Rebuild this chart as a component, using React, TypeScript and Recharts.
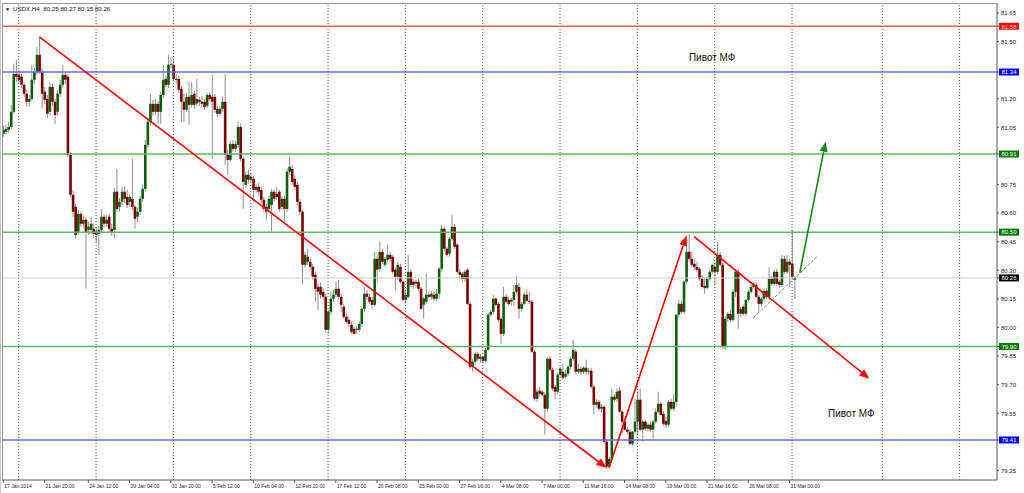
import React from 'react';
import { ComposedChart, Bar, XAxis, YAxis, ReferenceLine, ReferenceDot } from 'recharts';

// [open, high, low, close] per H4 bar, USDX 17 Jan 2014 .. 31 Mar 2014 08:00
const BARS: [number, number, number, number][] = [
  [81.016, 81.058, 81.000, 81.037], [81.026, 81.063, 81.011, 81.042], [81.037, 81.079, 81.021, 81.052], [81.052, 81.168, 81.042, 81.131],
  [81.131, 81.383, 81.121, 81.330], [81.330, 81.404, 81.288, 81.315], [81.325, 81.351, 81.278, 81.299], [81.315, 81.330, 81.257, 81.273],
  [81.273, 81.288, 81.210, 81.226], [81.226, 81.247, 81.157, 81.184], [81.184, 81.220, 81.157, 81.199], [81.199, 81.378, 81.190, 81.299],
  [81.299, 81.362, 81.278, 81.341], [81.341, 81.472, 81.325, 81.430], [81.430, 81.524, 81.330, 81.341], [81.341, 81.362, 81.147, 81.226],
  [81.236, 81.262, 81.173, 81.194], [81.199, 81.220, 81.100, 81.121], [81.131, 81.288, 81.115, 81.262], [81.262, 81.278, 81.163, 81.184],
  [81.184, 81.199, 81.068, 81.115], [81.131, 81.246, 81.110, 81.226], [81.226, 81.299, 81.210, 81.273], [81.273, 81.378, 81.257, 81.325],
  [81.325, 81.341, 81.278, 81.299], [81.315, 81.330, 80.895, 80.906], [80.906, 80.921, 80.685, 80.696], [80.696, 80.722, 80.581, 80.607],
  [80.633, 80.649, 80.465, 80.486], [80.502, 80.617, 80.486, 80.596], [80.596, 80.607, 80.528, 80.544], [80.544, 80.586, 80.523, 80.565],
  [80.565, 80.581, 80.203, 80.502], [80.512, 80.554, 80.486, 80.528], [80.512, 80.581, 80.491, 80.544], [80.518, 80.544, 80.470, 80.491],
  [80.502, 80.528, 80.449, 80.486], [80.491, 80.533, 80.381, 80.512], [80.512, 80.622, 80.497, 80.581], [80.581, 80.596, 80.523, 80.544],
  [80.544, 80.591, 80.528, 80.565], [80.581, 80.596, 80.502, 80.518], [80.518, 80.544, 80.481, 80.502], [80.512, 80.733, 80.465, 80.712],
  [80.712, 80.832, 80.607, 80.622], [80.633, 80.680, 80.607, 80.659], [80.659, 80.738, 80.643, 80.712], [80.712, 80.743, 80.654, 80.675],
  [80.685, 80.722, 80.628, 80.643], [80.659, 80.701, 80.633, 80.685], [80.675, 80.885, 80.617, 80.633], [80.633, 80.643, 80.518, 80.570],
  [80.581, 80.628, 80.554, 80.607], [80.607, 80.691, 80.591, 80.675], [80.675, 80.748, 80.659, 80.727], [80.727, 80.983, 80.712, 80.958],
  [80.958, 81.100, 80.942, 81.079], [81.079, 81.226, 81.058, 81.173], [81.173, 81.194, 81.110, 81.131], [81.131, 81.199, 81.115, 81.173],
  [81.173, 81.189, 81.068, 81.131], [81.131, 81.236, 81.068, 81.220], [81.220, 81.378, 81.205, 81.299], [81.304, 81.320, 81.257, 81.273],
  [81.273, 81.430, 81.257, 81.378], [81.378, 81.420, 81.357, 81.383], [81.378, 81.404, 81.288, 81.304], [81.304, 81.330, 81.278, 81.299],
  [81.304, 81.320, 81.231, 81.247], [81.252, 81.268, 81.079, 81.184], [81.184, 81.226, 81.079, 81.142], [81.142, 81.231, 81.130, 81.210],
  [81.210, 81.288, 81.063, 81.168], [81.168, 81.288, 81.152, 81.220], [81.226, 81.241, 81.147, 81.168], [81.175, 81.304, 81.163, 81.199],
  [81.194, 81.210, 81.163, 81.184], [81.184, 81.215, 81.157, 81.173], [81.184, 81.199, 81.142, 81.157], [81.163, 81.231, 81.152, 81.220],
  [81.220, 81.236, 81.184, 81.199], [81.210, 81.325, 80.885, 81.184], [81.210, 81.226, 81.126, 81.142], [81.147, 81.163, 81.105, 81.121],
  [81.121, 81.163, 81.110, 81.147], [81.147, 81.210, 81.131, 81.184], [81.184, 81.330, 80.853, 80.906], [80.906, 80.932, 80.801, 80.879],
  [80.879, 80.979, 80.869, 80.963], [80.963, 80.984, 80.921, 80.937], [80.937, 80.979, 80.921, 80.963], [80.958, 81.079, 80.942, 81.052],
  [81.052, 81.068, 80.869, 80.885], [80.885, 80.900, 80.622, 80.764], [80.748, 80.817, 80.733, 80.801], [80.801, 80.827, 80.754, 80.775],
  [80.775, 80.811, 80.759, 80.790], [80.780, 80.796, 80.659, 80.722], [80.722, 80.754, 80.707, 80.738], [80.738, 80.759, 80.691, 80.712],
  [80.722, 80.738, 80.654, 80.670], [80.670, 80.685, 80.607, 80.622], [80.633, 80.649, 80.565, 80.607], [80.622, 80.691, 80.601, 80.675],
  [80.643, 80.727, 80.502, 80.712], [80.712, 80.727, 80.659, 80.675], [80.701, 80.738, 80.670, 80.685], [80.712, 80.722, 80.607, 80.622],
  [80.633, 80.691, 80.617, 80.675], [80.675, 80.691, 80.554, 80.622], [80.622, 80.837, 80.607, 80.817], [80.817, 80.900, 80.801, 80.843],
  [80.832, 80.853, 80.748, 80.764], [80.780, 80.796, 80.722, 80.738], [80.748, 80.764, 80.643, 80.659], [80.659, 80.675, 80.591, 80.607],
  [80.607, 80.617, 80.229, 80.329], [80.329, 80.397, 80.313, 80.381], [80.371, 80.413, 80.329, 80.345], [80.345, 80.360, 80.303, 80.318],
  [80.318, 80.334, 80.250, 80.266], [80.276, 80.292, 80.135, 80.203], [80.213, 80.234, 80.093, 80.187], [80.213, 80.234, 80.151, 80.172],
  [80.187, 80.208, 80.145, 80.161], [80.161, 80.177, 79.977, 79.988], [79.988, 80.093, 79.967, 80.082], [80.082, 80.187, 80.067, 80.151],
  [80.151, 80.198, 80.135, 80.172], [80.172, 80.240, 80.161, 80.203], [80.203, 80.250, 80.151, 80.161], [80.161, 80.177, 80.082, 80.119],
  [80.109, 80.124, 80.046, 80.056], [80.056, 80.072, 80.019, 80.030], [80.040, 80.056, 80.004, 80.019], [80.014, 80.030, 79.967, 79.977],
  [79.993, 80.004, 79.962, 79.967], [79.988, 80.009, 79.967, 79.993], [79.988, 80.030, 79.977, 80.019], [80.019, 80.109, 80.004, 80.098],
  [80.098, 80.213, 80.082, 80.177], [80.177, 80.198, 80.145, 80.161], [80.161, 80.177, 80.124, 80.135], [80.145, 80.161, 80.098, 80.119],
  [80.119, 80.397, 80.109, 80.360], [80.360, 80.381, 80.240, 80.303], [80.308, 80.449, 80.292, 80.397], [80.397, 80.413, 80.334, 80.345],
  [80.329, 80.371, 80.318, 80.360], [80.355, 80.434, 80.345, 80.381], [80.381, 80.397, 80.345, 80.360], [80.371, 80.381, 80.282, 80.292],
  [80.303, 80.313, 80.198, 80.266], [80.266, 80.345, 80.250, 80.329], [80.318, 80.334, 80.229, 80.240], [80.240, 80.250, 80.135, 80.145],
  [80.145, 80.187, 80.124, 80.172], [80.161, 80.381, 80.151, 80.292], [80.292, 80.308, 80.213, 80.224], [80.240, 80.255, 80.203, 80.224],
  [80.229, 80.250, 80.208, 80.240], [80.240, 80.255, 80.192, 80.203], [80.203, 80.213, 80.093, 80.098], [80.119, 80.161, 80.046, 80.151],
  [80.135, 80.282, 80.124, 80.172], [80.172, 80.187, 80.151, 80.161], [80.161, 80.192, 80.145, 80.177], [80.172, 80.187, 80.140, 80.151],
  [80.151, 80.203, 80.140, 80.177], [80.177, 80.318, 80.151, 80.308], [80.308, 80.539, 80.292, 80.518], [80.518, 80.528, 80.402, 80.413],
  [80.413, 80.423, 80.371, 80.381], [80.387, 80.475, 80.371, 80.465], [80.465, 80.591, 80.455, 80.528], [80.528, 80.544, 80.413, 80.423],
  [80.434, 80.444, 80.282, 80.292], [80.292, 80.308, 80.255, 80.276], [80.282, 80.292, 80.240, 80.255], [80.255, 80.303, 80.240, 80.292],
  [80.303, 80.313, 80.119, 80.124], [80.124, 80.135, 79.783, 79.794], [79.794, 79.836, 79.768, 79.820], [79.820, 79.873, 79.804, 79.862],
  [79.862, 79.873, 79.825, 79.836], [79.836, 79.862, 79.815, 79.846], [79.846, 79.851, 79.815, 79.825], [79.825, 79.893, 79.815, 79.883],
  [79.883, 80.077, 79.878, 80.067], [80.067, 80.093, 80.056, 80.082], [80.082, 80.172, 80.067, 80.151], [80.151, 80.161, 80.109, 80.119],
  [80.124, 80.135, 80.030, 80.040], [80.046, 80.056, 79.915, 79.967], [79.967, 80.213, 79.956, 80.161], [80.161, 80.177, 80.130, 80.135],
  [80.145, 80.161, 80.114, 80.124], [80.135, 80.156, 80.114, 80.145], [80.145, 80.224, 80.114, 80.187], [80.187, 80.271, 80.177, 80.224],
  [80.213, 80.234, 80.046, 80.098], [80.098, 80.135, 80.082, 80.124], [80.124, 80.187, 80.114, 80.172], [80.172, 80.198, 80.135, 80.140],
  [80.140, 80.187, 80.124, 80.135], [80.135, 80.145, 79.867, 79.873], [79.873, 79.883, 79.616, 79.626], [79.626, 79.678, 79.610, 79.663],
  [79.668, 79.689, 79.642, 79.652], [79.663, 79.673, 79.637, 79.647], [79.647, 79.658, 79.437, 79.574], [79.574, 79.846, 79.558, 79.836],
  [79.836, 79.851, 79.768, 79.778], [79.778, 79.789, 79.668, 79.679], [79.689, 79.700, 79.621, 79.663], [79.663, 79.763, 79.652, 79.752],
  [79.752, 79.794, 79.742, 79.783], [79.768, 79.810, 79.726, 79.736], [79.742, 79.778, 79.731, 79.757], [79.757, 79.804, 79.745, 79.794],
  [79.794, 79.846, 79.783, 79.836], [79.836, 79.936, 79.825, 79.883], [79.873, 79.888, 79.757, 79.768], [79.768, 79.810, 79.757, 79.783],
  [79.783, 79.794, 79.752, 79.768], [79.768, 79.799, 79.757, 79.789], [79.789, 79.831, 79.752, 79.768], [79.768, 79.789, 79.752, 79.773],
  [79.773, 79.789, 79.679, 79.689], [79.689, 79.700, 79.542, 79.595], [79.595, 79.626, 79.579, 79.610], [79.610, 79.621, 79.563, 79.574],
  [79.574, 79.600, 79.553, 79.584], [79.584, 79.595, 79.390, 79.401], [79.401, 79.411, 79.259, 79.270], [79.270, 79.322, 79.264, 79.311],
  [79.311, 79.679, 79.301, 79.637], [79.637, 79.652, 79.610, 79.621], [79.626, 79.679, 79.610, 79.663], [79.668, 79.689, 79.553, 79.558],
  [79.558, 79.568, 79.437, 79.506], [79.506, 79.521, 79.458, 79.464], [79.464, 79.479, 79.443, 79.453], [79.453, 79.469, 79.380, 79.390],
  [79.390, 79.458, 79.380, 79.453], [79.453, 79.626, 79.443, 79.506], [79.506, 79.663, 79.437, 79.621], [79.621, 79.679, 79.458, 79.464],
  [79.464, 79.516, 79.401, 79.506], [79.506, 79.516, 79.458, 79.469], [79.469, 79.500, 79.453, 79.490], [79.490, 79.506, 79.453, 79.464],
  [79.464, 79.516, 79.416, 79.506], [79.506, 79.574, 79.495, 79.558], [79.558, 79.663, 79.547, 79.600], [79.600, 79.610, 79.537, 79.542],
  [79.547, 79.563, 79.484, 79.495], [79.510, 79.532, 79.474, 79.490], [79.490, 79.621, 79.479, 79.610], [79.610, 79.626, 79.563, 79.574],
  [79.574, 79.652, 79.563, 79.610], [79.610, 80.072, 79.584, 80.067], [80.067, 80.145, 80.051, 80.124], [80.124, 80.140, 80.072, 80.082],
  [80.082, 80.250, 80.072, 80.240], [80.240, 80.486, 80.229, 80.397], [80.397, 80.491, 80.345, 80.360], [80.360, 80.397, 80.318, 80.329],
  [80.334, 80.355, 80.303, 80.318], [80.318, 80.345, 80.292, 80.303], [80.308, 80.318, 80.245, 80.255], [80.255, 80.276, 80.203, 80.213],
  [80.218, 80.255, 80.177, 80.208], [80.208, 80.266, 80.198, 80.255], [80.255, 80.303, 80.245, 80.292], [80.292, 80.334, 80.282, 80.329],
  [80.318, 80.339, 80.224, 80.292], [80.292, 80.449, 80.282, 80.381], [80.381, 80.397, 80.318, 80.329], [80.329, 80.339, 79.888, 79.899],
  [79.899, 80.056, 79.883, 80.046], [80.046, 80.082, 80.030, 80.072], [80.072, 80.093, 80.030, 80.040], [80.040, 80.198, 80.030, 80.187],
  [80.187, 80.303, 80.161, 80.292], [80.292, 80.308, 79.993, 80.072], [80.072, 80.109, 80.056, 80.098], [80.109, 80.119, 80.061, 80.072],
  [80.072, 80.151, 80.061, 80.145], [80.145, 80.198, 80.135, 80.187], [80.187, 80.224, 80.177, 80.213], [80.213, 80.240, 80.203, 80.229],
  [80.224, 80.240, 80.156, 80.161], [80.161, 80.172, 80.082, 80.124], [80.124, 80.161, 80.109, 80.151], [80.151, 80.203, 80.135, 80.192],
  [80.192, 80.208, 80.151, 80.161], [80.161, 80.318, 80.145, 80.255], [80.255, 80.271, 80.219, 80.229], [80.229, 80.303, 80.219, 80.292],
  [80.292, 80.308, 80.219, 80.229], [80.240, 80.250, 80.208, 80.224], [80.224, 80.381, 80.213, 80.360], [80.360, 80.376, 80.282, 80.292],
  [80.292, 80.381, 80.282, 80.345], [80.345, 80.360, 80.213, 80.329], [80.334, 80.512, 80.250, 80.266], [80.25, 80.27, 80.15, 80.26],
];

const SLOTS = 386; // bar slots across the chart window (empty ones on the right)
const TICK_IDX = [0, 16, 33, 49, 65, 81, 97, 113, 129, 145, 161, 177, 193, 209, 225, 241, 257, 273, 289, 305];
const TICK_LABELS = ['17 Jan 2014', '21 Jan 20:00', '24 Jan 12:00', '29 Jan 04:00', '31 Jan 20:00', '5 Feb 12:00',
  '10 Feb 04:00', '12 Feb 20:00', '17 Feb 12:00', '20 Feb 08:00', '25 Feb 00:00', '27 Feb 16:00', '4 Mar 08:00',
  '7 Mar 00:00', '11 Mar 16:00', '14 Mar 08:00', '19 Mar 00:00', '21 Mar 16:00', '26 Mar 08:00', '31 Mar 00:00'];
const WEEK_IDX = [6, 36, 66, 96, 126, 156, 186, 216, 246, 276, 306, 341, 371];
const PRICE_TICKS = [81.65, 81.5, 81.2, 81.05, 80.75, 80.6, 80.45, 80.3, 80.15, 80.0, 79.85, 79.7, 79.55, 79.25];
const LEVELS = [
  { v: 81.58, line: '#ff5a5a', box: '#ff0000', txt: '#ffe0e0' },
  { v: 81.34, line: '#6a6aff', box: '#0000ff', txt: '#ffffff' },
  { v: 80.91, line: '#62b862', box: '#007a00', txt: '#ffffff' },
  { v: 80.5, line: '#62b862', box: '#007a00', txt: '#ffffff' },
  { v: 80.26, line: '#cfcfcf', box: '#000000', txt: '#ffffff' },
  { v: 79.9, line: '#62b862', box: '#007a00', txt: '#ffffff' },
  { v: 79.41, line: '#6a6aff', box: '#0000ff', txt: '#ffffff' },
];
const TRENDS = [
  { a: [14, 81.524], b: [234, 79.264], color: '#ff0000', arrow: true, dashed: false },
  { a: [235, 79.264], b: [265, 80.481], color: '#ff0000', arrow: true, dashed: false },
  { a: [268, 80.476], b: [336, 79.731], color: '#ff0000', arrow: true, dashed: false },
  { a: [291, 80.051], b: [316, 80.376], color: '#2fa82f', arrow: false, dashed: true },
  { a: [309, 80.287], b: [319, 80.974], color: '#108a10', arrow: true, dashed: false },
];
const NOTES = [
  { i: 275, p: 81.414, text: 'Пивот МФ' },
  { i: 329, p: 79.547, text: 'Пивот МФ' },
];
const TITLE = 'USDX,H4  80.25 80.27 80.15 80.26';

const rows = Array.from({ length: SLOTS }, (_, i) => {
  const b = BARS[i];
  return b ? { i, o: b[0], h: b[1], l: b[2], c: b[3], range: [b[2], b[1]] } : { i, range: null };
});

const FONT = '"Liberation Sans", Arial, sans-serif';

const Candle = (props: any) => {
  const d = props.payload || props;
  if (!d || d.o == null || props.height == null) return <g />;
  const top = Math.min(props.y, props.y + props.height);
  const span = Math.abs(props.height);
  const py = (v: number) => top + ((d.h - v) / (d.h - d.l)) * span;
  const cx = props.x + props.width / 2;
  const bull = d.c >= d.o;
  const bt = py(Math.max(d.o, d.c));
  const bb = py(Math.min(d.o, d.c));
  return (
    <g>
      <line x1={cx} x2={cx} y1={top} y2={top + span} stroke="#8f8f8f" strokeWidth={1} />
      <rect x={cx - 1.3} y={bt} width={2.6} height={Math.max(bb - bt, 1)} fill={bull ? '#0b5c0b' : '#7d0000'} />
    </g>
  );
};

const XTick = (props: any) => {
  const k = TICK_IDX.indexOf(props.payload.value);
  if (k < 0) return <g />;
  return (
    <text x={props.x + 1} y={props.y + 1} fontSize={5} fontFamily={FONT} fill="#222" textAnchor="start" dominantBaseline="central">
      {TICK_LABELS[k]}
    </text>
  );
};

const YTick = (props: any) => {
  const v = props.payload.value;
  const lv = LEVELS.find((L) => L.v === v);
  if (lv) {
    return (
      <g>
        <rect x={props.x - 1} y={props.y - 3.5} width={20} height={7} fill={lv.box} />
        <text x={props.x + 9} y={props.y + 0.3} fontSize={6} fontFamily={FONT} fill={lv.txt} textAnchor="middle" dominantBaseline="central">
          {v.toFixed(2)}
        </text>
      </g>
    );
  }
  return (
    <text x={props.x + 1} y={props.y + 0.3} fontSize={6} fontFamily={FONT} fill="#222" textAnchor="start" dominantBaseline="central">
      {v.toFixed(2)}
    </text>
  );
};

const trendShape = (t: any) => (p: any) => {
  const { x1, y1, x2, y2 } = p;
  if (x1 == null) return <g />;
  const dx = x2 - x1, dy = y2 - y1;
  const len = Math.sqrt(dx * dx + dy * dy) || 1;
  const ux = dx / len, uy = dy / len;
  const hl = 10, hw = 4;
  const bx = t.arrow ? x2 - ux * hl : x2;
  const by = t.arrow ? y2 - uy * hl : y2;
  return (
    <g>
      <line x1={x1} y1={y1} x2={bx} y2={by} stroke={t.color} strokeWidth={t.dashed ? 1 : 1.6} strokeDasharray={t.dashed ? '3 2' : undefined} />
      {t.arrow && (
        <polygon
          points={`${x2},${y2} ${bx - uy * hw},${by + ux * hw} ${bx + uy * hw},${by - ux * hw}`}
          fill={t.color}
        />
      )}
    </g>
  );
};

const noteShape = (text: string) => (p: any) => (
  <text x={p.cx} y={p.cy} fontSize={10} fontFamily={FONT} fill="#111" textAnchor="middle" dominantBaseline="central">
    {text}
  </text>
);

const allPriceTicks = [...PRICE_TICKS, ...LEVELS.map((L) => L.v)].sort((a, b) => b - a);

export default function App() {
  return (
    <div style={{ position: 'absolute', left: 0, top: 0, width: 1024, height: 493, background: '#fff', overflow: 'hidden' }}>
      <ComposedChart width={1024} height={493} data={rows} margin={{ top: 3, right: 0, bottom: 0, left: 2 }} barCategoryGap={0} barGap={0}>
        <XAxis
          dataKey="i"
          type="category"
          ticks={TICK_IDX}
          interval={0}
          tick={<XTick />}
          tickSize={3}
          tickMargin={2}
          height={13}
          stroke="#555"
          tickLine={{ stroke: '#555' }}
          axisLine={{ stroke: '#555' }}
        />
        <YAxis
          orientation="right"
          type="number"
          domain={[79.2, 81.702]}
          allowDataOverflow
          ticks={allPriceTicks}
          interval={0}
          tick={<YTick />}
          tickSize={2}
          tickMargin={1}
          width={27}
          stroke="#555"
          axisLine={{ stroke: '#555' }}
          tickLine={{ stroke: '#555' }}
        />
        {WEEK_IDX.map((w) => (
          <ReferenceLine key={'w' + w} x={w} stroke="#555" strokeDasharray="1 2" strokeWidth={1} />
        ))}
        {LEVELS.map((L) => (
          <ReferenceLine key={'l' + L.v} y={L.v} stroke={L.line} strokeWidth={L.v === 80.26 ? 1 : 1.5} />
        ))}
        <Bar dataKey="range" shape={Candle} isAnimationActive={false} />
        {TRENDS.map((t, k) => (
          <ReferenceLine
            key={'t' + k}
            segment={[{ x: t.a[0], y: t.a[1] }, { x: t.b[0], y: t.b[1] }]}
            stroke={t.color}
            shape={trendShape(t)}
            ifOverflow="visible"
          />
        ))}
        {NOTES.map((n, k) => (
          <ReferenceDot key={'n' + k} x={n.i} y={n.p} r={0} shape={noteShape(n.text)} ifOverflow="visible" />
        ))}
      </ComposedChart>
      <div style={{ position: 'absolute', left: 2, top: 3, width: 995, height: 477, boxSizing: 'border-box', borderLeft: '1px solid #9a9a9a', borderTop: '1px solid #9a9a9a', pointerEvents: 'none' }} />
      <div style={{ position: 'absolute', left: 0, top: 0, width: 1, height: 493, background: '#c8c8c8' }} />
      <div style={{ position: 'absolute', left: 5, top: 5, fontFamily: FONT, fontSize: 6.2, color: '#111', whiteSpace: 'pre', lineHeight: '7px' }}>
        <span style={{ fontSize: 5, marginRight: 3 }}>▼</span>
        {TITLE}
      </div>
    </div>
  );
}
